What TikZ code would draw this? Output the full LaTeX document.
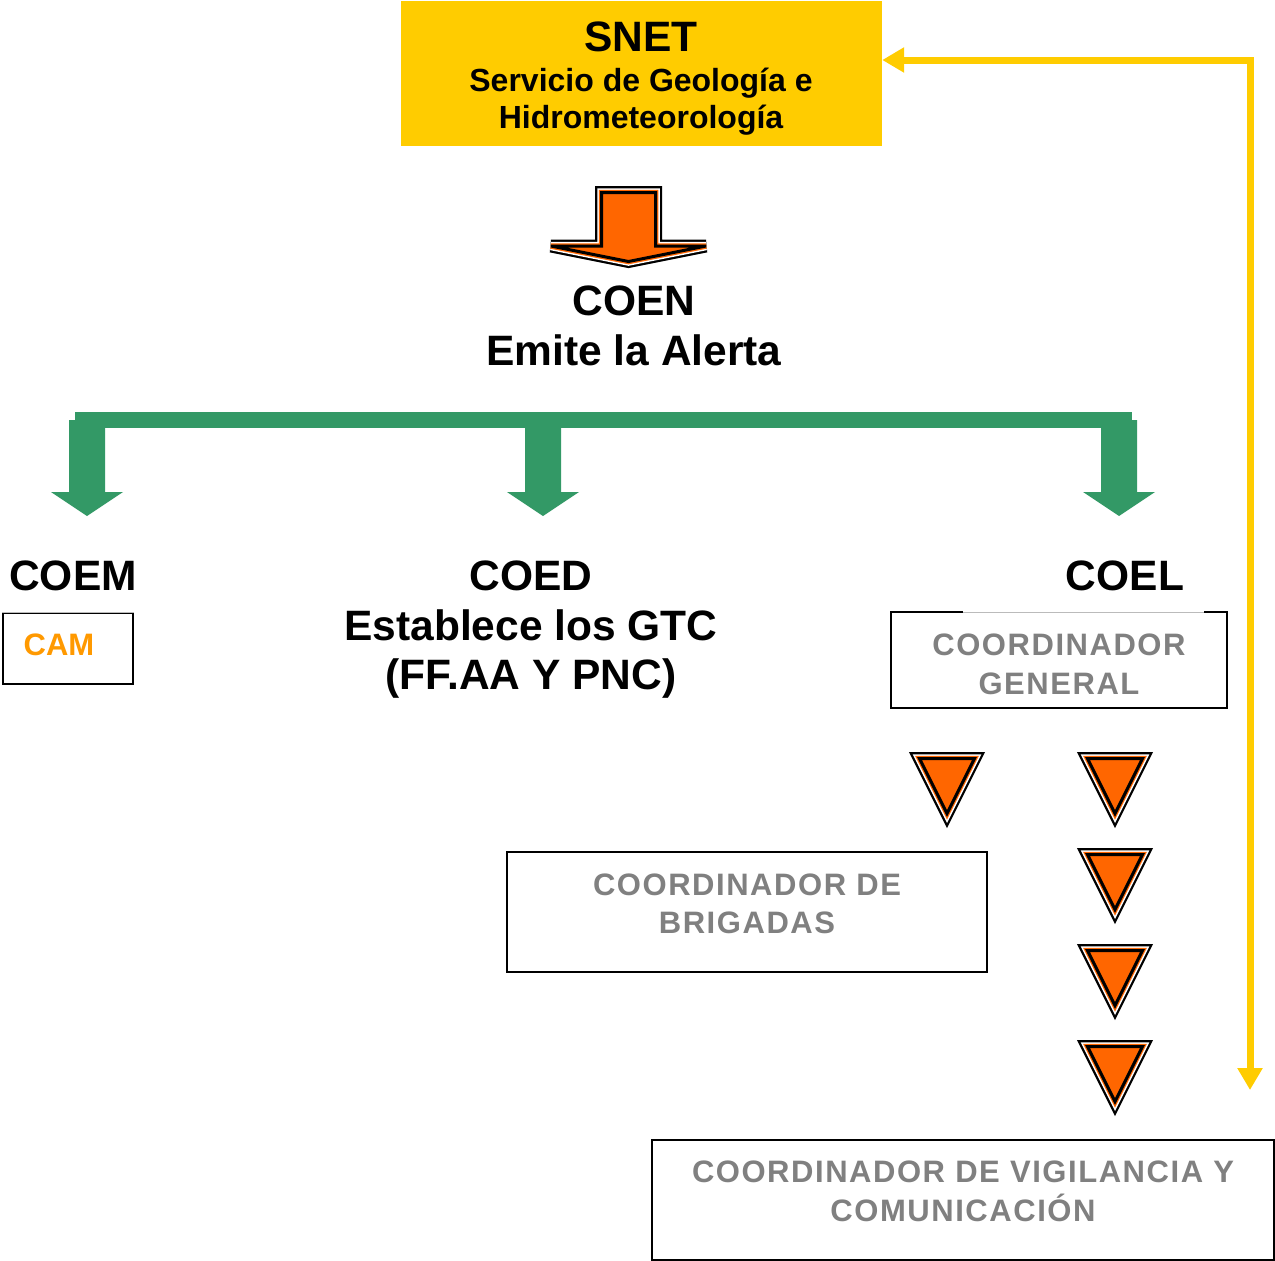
\documentclass[tikz,border=0pt]{standalone}
\usepackage{fontspec}
\setmainfont{Liberation Sans}
\newfontfamily\grayfont{Liberation Sans}[LetterSpace=5]
\usetikzlibrary{arrows.meta}
\definecolor{snetyellow}{HTML}{FFCC00}
\definecolor{gr}{HTML}{339966}
\definecolor{orng}{HTML}{FF6600}
\definecolor{camorange}{HTML}{FF9900}
\definecolor{txtgray}{HTML}{808080}
\definecolor{edgegray}{HTML}{BBBBBB}
\newcommand\layeredpath[1]{%
  \draw[black, line width=13, line join=miter] #1;
  \draw[white, line width=8.5, line join=miter] #1;
  \draw[orng, line width=5.5, line join=miter] #1;
  \draw[black, fill=orng, line width=3, line join=miter] #1;}
\tikzset{
  big/.style={font=\bfseries\fontsize{42.5}{49}\selectfont, anchor=base, inner sep=0},
  sub/.style={font=\bfseries\fontsize{32}{38}\selectfont, anchor=base, inner sep=0},
  graytxt/.style={font=\grayfont\bfseries\fontsize{31}{39}\selectfont, text=txtgray, anchor=base, inner sep=0},
  frame/.style={draw=black, line width=2, fill=white, inner sep=0, rectangle},
  yarrow/.style={draw=snetyellow, line width=7, {Triangle[length=22pt,width=24pt]}-{Triangle[length=22pt,width=24pt]}},
  garrow/.pic={\fill[gr] (-18,-96) -- (18,-96) -- (18,-24) -- (36,-24) -- (0,0) -- (-36,-24) -- (-18,-24) -- cycle;},
  otri/.pic={\layeredpath{(-27.5,-17) -- (27.5,-17) -- (0,38) -- cycle}}
}
\begin{document}
\begin{tikzpicture}[x=1pt,y=-1pt]
\useasboundingbox (0,0) rectangle (1275,1261);

% SNET box
\node[fill=snetyellow, draw=none, inner sep=0, minimum width=481, minimum height=145] (snet) at (641.5,73.5) {};
\node[big] (snett) at (641,51) {SNET};
\node[sub] (serv) at (641,91) {Servicio de Geología e};
\node[sub] (hidro) at (641,128) {Hidrometeorología};

% orange block arrow
\layeredpath{(601.5,192.5) -- (655.5,192.5) -- (655.5,246) -- (706,246) -- (628.5,261.5) -- (551,246) -- (601.5,246) -- cycle}

% COEN
\node[big] (coen) at (634,315) {COEN};
\node[big] (emite) at (634,365) {Emite la Alerta};

% green arrows
\fill[gr] (75,412) rectangle (1132,428);
\pic (gL) at (87,516) {garrow};
\pic (gM) at (543,516) {garrow};
\pic (gR) at (1119,516) {garrow};

% level titles
\node[big] (coem) at (73,590) {COEM};
\node[big] (coed) at (531,590) {COED};
\node[big] (estab) at (531,640) {Establece los GTC};
\node[big] (ff) at (531,689) {(FF.AA Y PNC)};
\node[big] (coel) at (1125,590) {COEL};

% boxes
\node[frame, minimum width=130, minimum height=71] (cam) at (68,648.5) {};
\draw[white, line width=2.5] (cam.north west) -- (cam.north east);
\draw[edgegray, line width=1] (cam.north west) -- (cam.north east);
\node[font=\bfseries\fontsize{31}{38}\selectfont, text=camorange, anchor=base, inner sep=0] (camt) at (59,655) {CAM};

\node[frame, minimum width=336, minimum height=96] (gen) at (1059,660) {};
\draw[white, line width=2.5] (963,612) -- (1204,612);
\draw[edgegray, line width=1] (963,612.5) -- (1204,612.5);
\node[graytxt] (gen1) at (1059,655) {COORDINADOR};
\node[graytxt] (gen2) at (1059,694) {GENERAL};

\node[frame, minimum width=480, minimum height=120] (brig) at (747,912) {};
\node[graytxt] (brig1) at (747,895) {COORDINADOR DE};
\node[graytxt] (brig2) at (747,933) {BRIGADAS};

\node[frame, minimum width=622, minimum height=120] (vig) at (962.5,1200) {};
\node[graytxt] (vig1) at (963,1182) {COORDINADOR DE VIGILANCIA Y};
\node[graytxt] (vig2) at (963,1221) {COMUNICACIÓN};

% triangles
\pic (t1) at (947,775.5) {otri};
\pic (t2) at (1115,775.5) {otri};
\pic (t3) at (1115,871.5) {otri};
\pic (t4) at (1115,967.5) {otri};
\pic (t5) at (1115,1063.5) {otri};

% yellow feedback arrow
\coordinate (yend) at (1250,1090);
\draw[yarrow] ([yshift=13.5pt]snet.east) -| (yend);
\end{tikzpicture}
\end{document}
